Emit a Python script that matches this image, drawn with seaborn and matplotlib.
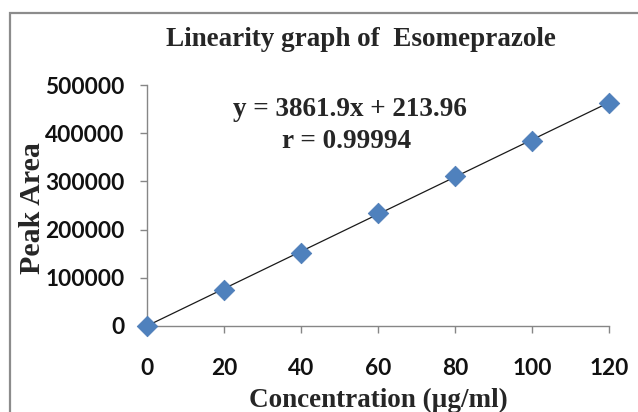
import matplotlib
matplotlib.use("Agg")
import matplotlib.pyplot as plt
from matplotlib.patches import Rectangle
import numpy as np
import pandas as pd
import seaborn as sns

# Calibration data
concentration = [0, 20, 40, 60, 80, 100, 120]
peak_area = [0, 75500, 152000, 234000, 310500, 383500, 463000]
x_ticks = [0, 20, 40, 60, 80, 100, 120]
y_ticks = [0, 100000, 200000, 300000, 400000, 500000]
slope = 3861.9
intercept = 213.96
r_value = 0.99994

sns.set_theme(style="white")
plt.rcParams["font.family"] = ["Liberation Serif", "DejaVu Serif"]

df = pd.DataFrame({"Concentration": concentration, "Peak Area": peak_area})

W, H = 638, 412
fig = plt.figure(figsize=(W / 100, H / 100), dpi=100)
ax = fig.add_axes([147 / W, 1 - 326 / H, (609 - 147) / W, (326 - 85) / H])

# Chart-area frame
fig.patches.append(Rectangle((10 / W, -0.05), 1.2, (1 - 13 / H) + 0.05,
                             transform=fig.transFigure, fill=False,
                             edgecolor="#8c8c8c", linewidth=1.6))

# Trendline from the regression equation
xl = np.array([0, 120])
sns.lineplot(x=xl, y=slope * xl + intercept, ax=ax, color="#1a1a1a",
             linewidth=0.9, zorder=2)

sns.scatterplot(data=df, x="Concentration", y="Peak Area", ax=ax,
                marker="D", s=110, color="#4f81bd", edgecolor="#4a7ab5",
                linewidth=0.5, zorder=3, clip_on=False)

ax.set_xlim(0, 120)
ax.set_ylim(0, 500000)
ax.set_xticks(x_ticks)
ax.set_yticks(y_ticks)
ax.set_xticklabels([str(v) for v in x_ticks])
ax.set_yticklabels([str(v) for v in y_ticks])

for s in ["top", "right"]:
    ax.spines[s].set_visible(False)
for s in ["left", "bottom"]:
    ax.spines[s].set_color("#868686")
    ax.spines[s].set_linewidth(1.0)

ax.tick_params(axis="both", which="major", direction="out", length=5,
               width=1.0, color="#868686", left=True, bottom=True)
ax.tick_params(axis="x", pad=18)
ax.tick_params(axis="y", pad=11)
for lab in ax.get_xticklabels() + ax.get_yticklabels():
    lab.set_fontfamily("Lato")
    lab.set_fontweight("bold")
    lab.set_fontsize(16.3)
    lab.set_color("#111111")

ax.set_xlabel("")
ax.set_ylabel("")
ax.grid(False)

fig.text(378 / W, 1 - 400 / H, "Concentration (\u00b5g/ml)",
         ha="center", va="center", fontsize=19.5, fontweight="bold")
fig.text(33 / W, 1 - 208 / H, "Peak Area", rotation=90,
         ha="center", va="center", fontsize=21.5, fontweight="bold")
fig.text(361 / W, 1 - 40 / H, "Linearity graph of  Esomeprazole",
         ha="center", va="center", fontsize=19.5, fontweight="bold")
fig.text(350 / W, 1 - 110 / H, f"y = {slope}x + {intercept}",
         ha="center", va="center", fontsize=19.5, fontweight="bold")
fig.text(347 / W, 1 - 142 / H, f"r = {r_value}",
         ha="center", va="center", fontsize=19.5, fontweight="bold")

fig.savefig("out.png", dpi=100)
